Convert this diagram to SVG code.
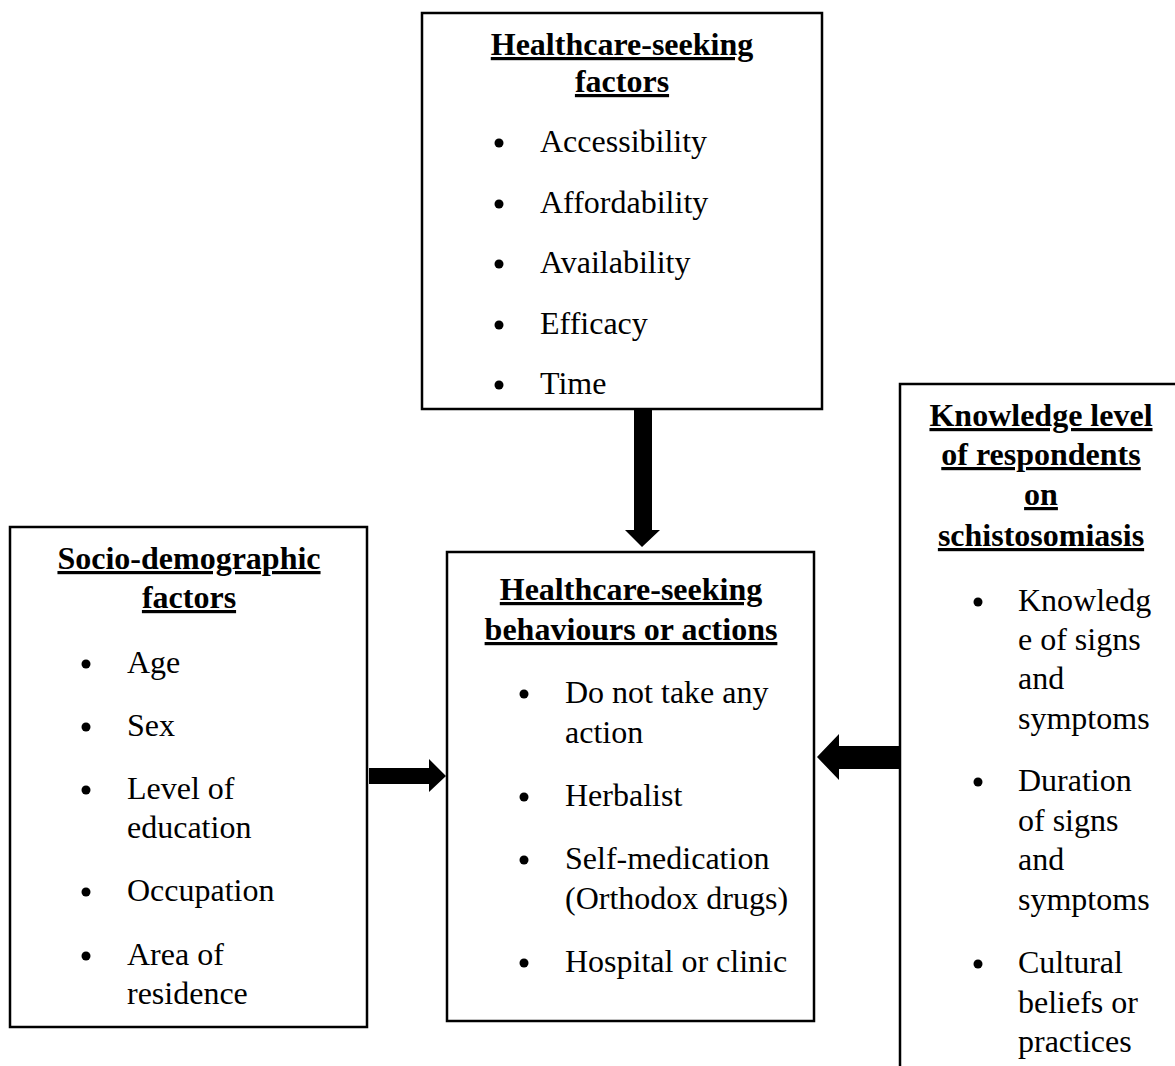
<svg xmlns="http://www.w3.org/2000/svg" width="1175" height="1066" viewBox="0 0 1175 1066">
<style>
.box{fill:#fff;stroke:#000;stroke-width:2.5}
.h{font-family:"Liberation Serif","Times New Roman",serif;font-size:32px;font-weight:bold;text-anchor:middle;text-decoration:underline}
.t{font-family:"Liberation Serif","Times New Roman",serif;font-size:32px}
.b{fill:#000}
.arr{fill:#000}
</style>
<rect width="1175" height="1066" fill="#fff"/>
<g id="connectors">
<polygon class="arr" points="634,409 652,409 652,530 660,530 642,547 625,530 634,530"/>
<polygon class="arr" points="369,768 429,768 429,759 446,776 429,792 429,784 369,784"/>
<polygon class="arr" points="900,746 839,746 839,734 817,757 839,780 839,769 900,769"/>
</g>
<g id="healthcare-seeking-factors">
<rect class="box" x="422" y="13" width="400" height="396"/>
<text class="h" x="622" y="55">Healthcare-seeking</text>
<text class="h" x="622" y="92">factors</text>
<circle class="b" cx="499" cy="143" r="4.5"/><text class="t" x="540" y="152">Accessibility</text>
<circle class="b" cx="499" cy="204" r="4.5"/><text class="t" x="540" y="213">Affordability</text>
<circle class="b" cx="499" cy="264" r="4.5"/><text class="t" x="540" y="273">Availability</text>
<circle class="b" cx="499" cy="325" r="4.5"/><text class="t" x="540" y="334">Efficacy</text>
<circle class="b" cx="499" cy="385" r="4.5"/><text class="t" x="540" y="394">Time</text>
</g>
<g id="socio-demographic-factors">
<rect class="box" x="10" y="527" width="357" height="500"/>
<text class="h" x="189" y="569">Socio-demographic</text>
<text class="h" x="189" y="608">factors</text>
<circle class="b" cx="86" cy="664" r="4.5"/><text class="t" x="127" y="673">Age</text>
<circle class="b" cx="86" cy="727" r="4.5"/><text class="t" x="127" y="736">Sex</text>
<circle class="b" cx="86" cy="790" r="4.5"/><text class="t" x="127" y="799">Level of</text>
<text class="t" x="127" y="838">education</text>
<circle class="b" cx="86" cy="892" r="4.5"/><text class="t" x="127" y="901">Occupation</text>
<circle class="b" cx="86" cy="956" r="4.5"/><text class="t" x="127" y="965">Area of</text>
<text class="t" x="127" y="1004">residence</text>
</g>
<g id="healthcare-seeking-behaviours">
<rect class="box" x="447" y="552" width="367" height="469"/>
<text class="h" x="631" y="600">Healthcare-seeking</text>
<text class="h" x="631" y="640">behaviours or actions</text>
<circle class="b" cx="524" cy="694" r="4.5"/><text class="t" x="565" y="703">Do not take any</text>
<text class="t" x="565" y="743">action</text>
<circle class="b" cx="524" cy="797" r="4.5"/><text class="t" x="565" y="806">Herbalist</text>
<circle class="b" cx="524" cy="860" r="4.5"/><text class="t" x="565" y="869">Self-medication</text>
<text class="t" x="565" y="909">(Orthodox drugs)</text>
<circle class="b" cx="524" cy="963" r="4.5"/><text class="t" x="565" y="972">Hospital or clinic</text>
</g>
<g id="knowledge-level">
<rect class="box" x="900" y="384" width="300" height="720"/>
<text class="h" x="1041" y="426">Knowledge level</text>
<text class="h" x="1041" y="465">of respondents</text>
<text class="h" x="1041" y="505">on</text>
<text class="h" x="1041" y="546">schistosomiasis</text>
<circle class="b" cx="978" cy="602" r="4.5"/><text class="t" x="1018" y="611">Knowledg</text>
<text class="t" x="1018" y="650">e of signs</text>
<text class="t" x="1018" y="689">and</text>
<text class="t" x="1018" y="729">symptoms</text>
<circle class="b" cx="978" cy="782" r="4.5"/><text class="t" x="1018" y="791">Duration</text>
<text class="t" x="1018" y="831">of signs</text>
<text class="t" x="1018" y="870">and</text>
<text class="t" x="1018" y="910">symptoms</text>
<circle class="b" cx="978" cy="964" r="4.5"/><text class="t" x="1018" y="973">Cultural</text>
<text class="t" x="1018" y="1013">beliefs or</text>
<text class="t" x="1018" y="1052">practices</text>
</g>
</svg>
